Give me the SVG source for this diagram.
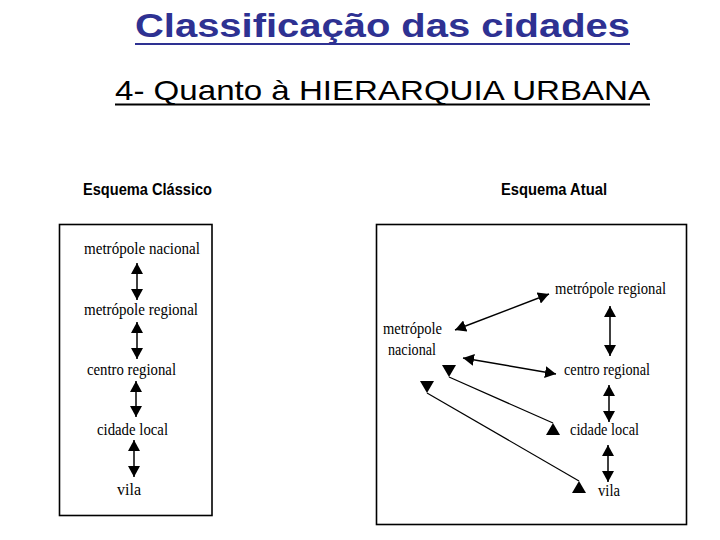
<svg xmlns="http://www.w3.org/2000/svg" width="720" height="540" viewBox="0 0 720 540">
<style>
.title{font-family:"Liberation Sans",Arial,sans-serif;font-weight:bold;font-size:34px;fill:#2e3192}
.sub{font-family:"Liberation Sans",Arial,sans-serif;font-size:28px;fill:#000}
.head{font-family:"Liberation Sans",Arial,sans-serif;font-weight:bold;font-size:17px;fill:#000}
.lbl{font-family:"Liberation Serif","Times New Roman","DejaVu Serif",serif;font-size:16px;fill:#000}
.box{fill:#fff;stroke:#000;stroke-width:1.6}
.ln{stroke:#000;stroke-width:1.5;fill:none}
.thin{stroke:#000;stroke-width:1.2;fill:none}
</style>
<defs>
<marker id="ah" viewBox="0 0 10 10" refX="10" refY="5" markerUnits="userSpaceOnUse" markerWidth="11" markerHeight="12" preserveAspectRatio="none" orient="auto-start-reverse"><path d="M0,0 L10,5 L0,10 z" fill="#000"/></marker>
<marker id="down" viewBox="0 0 10 10" refX="10" refY="5" markerUnits="userSpaceOnUse" markerWidth="12" markerHeight="14" preserveAspectRatio="none" orient="90"><path d="M0,0 L10,5 L0,10 z" fill="#000"/></marker>
<marker id="up" viewBox="0 0 10 10" refX="10" refY="5" markerUnits="userSpaceOnUse" markerWidth="12" markerHeight="14" preserveAspectRatio="none" orient="270"><path d="M0,0 L10,5 L0,10 z" fill="#000"/></marker>
</defs>
<rect width="720" height="540" fill="#fff"/>
<g id="title">
<text class="title" x="135" y="37" textLength="495" lengthAdjust="spacingAndGlyphs">Classificação das cidades</text>
<line x1="135" y1="44" x2="630" y2="44" stroke="#2e3192" stroke-width="2.2"/>
</g>
<g id="subtitle">
<text class="sub" x="115" y="100" textLength="535" lengthAdjust="spacingAndGlyphs">4- Quanto à HIERARQUIA URBANA</text>
<line x1="115" y1="104.5" x2="650" y2="104.5" stroke="#000" stroke-width="2"/>
</g>
<g id="esquema-classico">
<text class="head" x="83" y="195" textLength="129" lengthAdjust="spacingAndGlyphs">Esquema Clássico</text>
<rect class="box" x="59.5" y="224.5" width="152.5" height="291"/>
</g>
<g id="esquema-atual">
<text class="head" x="501" y="195" textLength="106" lengthAdjust="spacingAndGlyphs">Esquema Atual</text>
<rect class="box" x="376.5" y="224.5" width="310" height="300"/>
</g>
<g id="c-metropole-nacional"><text class="lbl" x="84" y="254" textLength="116" lengthAdjust="spacingAndGlyphs">metrópole nacional</text></g>
<g id="c-metropole-regional"><text class="lbl" x="84" y="315" textLength="114" lengthAdjust="spacingAndGlyphs">metrópole regional</text></g>
<g id="c-centro-regional"><text class="lbl" x="87" y="375" textLength="89" lengthAdjust="spacingAndGlyphs">centro regional</text></g>
<g id="c-cidade-local"><text class="lbl" x="97" y="435" textLength="71" lengthAdjust="spacingAndGlyphs">cidade local</text></g>
<g id="c-vila"><text class="lbl" x="117" y="495" textLength="24" lengthAdjust="spacingAndGlyphs">vila</text></g>
<g id="a-metropole-nacional">
<text class="lbl" x="383" y="334" textLength="59" lengthAdjust="spacingAndGlyphs">metrópole</text>
<text class="lbl" x="388" y="355" textLength="48" lengthAdjust="spacingAndGlyphs">nacional</text>
</g>
<g id="a-metropole-regional"><text class="lbl" x="555" y="294" textLength="111" lengthAdjust="spacingAndGlyphs">metrópole regional</text></g>
<g id="a-centro-regional"><text class="lbl" x="564" y="375" textLength="86" lengthAdjust="spacingAndGlyphs">centro regional</text></g>
<g id="a-cidade-local"><text class="lbl" x="570" y="435" textLength="69" lengthAdjust="spacingAndGlyphs">cidade local</text></g>
<g id="a-vila"><text class="lbl" x="598" y="496" textLength="22" lengthAdjust="spacingAndGlyphs">vila</text></g>
<g id="connectors">
<line class="ln" x1="137" y1="263" x2="137" y2="300" marker-start="url(#ah)" marker-end="url(#ah)"/>
<line class="ln" x1="137" y1="322" x2="137" y2="359" marker-start="url(#ah)" marker-end="url(#ah)"/>
<line class="ln" x1="136" y1="381" x2="136" y2="417" marker-start="url(#ah)" marker-end="url(#ah)"/>
<line class="ln" x1="134" y1="440" x2="134" y2="477" marker-start="url(#ah)" marker-end="url(#ah)"/>
<line class="ln" x1="455" y1="330" x2="549" y2="294" marker-start="url(#ah)" marker-end="url(#ah)"/>
<line class="ln" x1="610" y1="306" x2="610" y2="356" marker-start="url(#ah)" marker-end="url(#ah)"/>
<line class="ln" x1="463" y1="358" x2="556" y2="374" marker-start="url(#ah)" marker-end="url(#ah)"/>
<line class="thin" x1="449" y1="377" x2="553" y2="423" marker-start="url(#down)" marker-end="url(#up)"/>
<line class="thin" x1="427" y1="393" x2="579" y2="481" marker-start="url(#down)" marker-end="url(#up)"/>
<line class="ln" x1="609" y1="385" x2="609" y2="422" marker-start="url(#ah)" marker-end="url(#ah)"/>
<line class="ln" x1="608" y1="445" x2="608" y2="482" marker-start="url(#ah)" marker-end="url(#ah)"/>
</g>
</svg>
